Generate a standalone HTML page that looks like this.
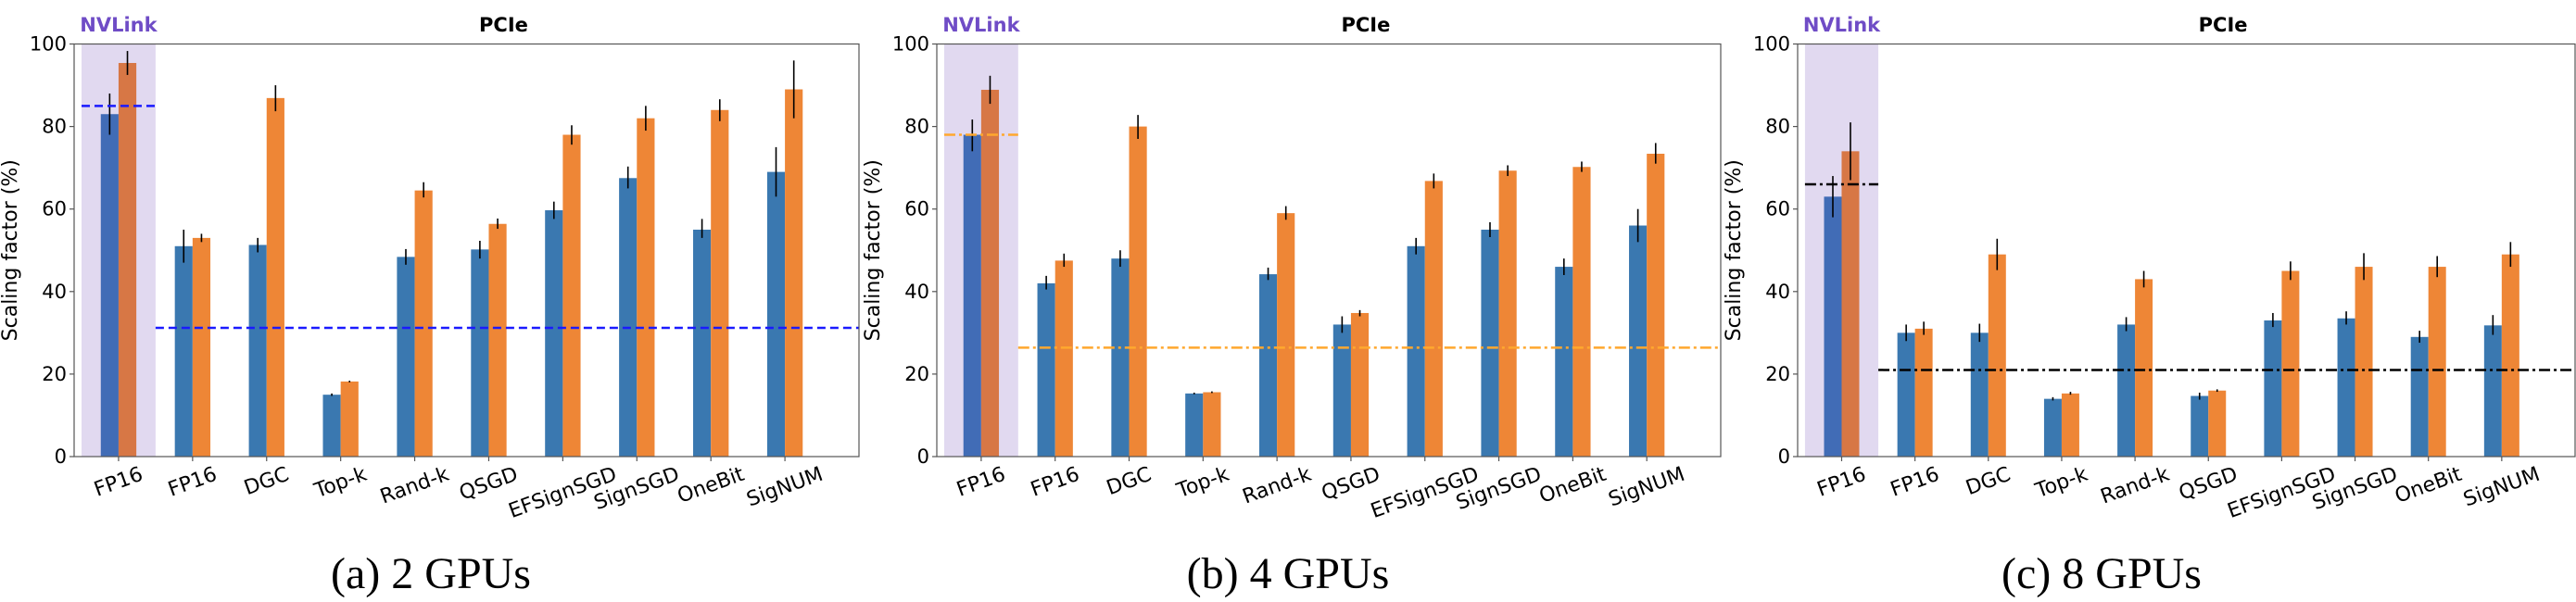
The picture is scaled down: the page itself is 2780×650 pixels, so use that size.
<!DOCTYPE html>
<html><head><meta charset="utf-8">
<style>
html,body{margin:0;padding:0;background:#fff;}
svg{display:block;}
text{font-family:"DejaVu Sans","Liberation Sans",sans-serif;}
.cap{font-family:"Liberation Serif",serif;font-size:48px;}
</style></head>
<body>
<svg id="fig" width="2780" height="650" viewBox="0 0 2780 650" xmlns="http://www.w3.org/2000/svg"></svg>
<script>
const categories = ["FP16","FP16","DGC","Top-k","Rand-k","QSGD","EFSignSGD","SignSGD","OneBit","SigNUM"];
const yTicks = [0,20,40,60,80,100];

// 2 GPUs
const blue2 = [83,51,51.3,15,48.4,50.2,59.7,67.5,55,69];
const blue2Lo = [78,47,49.5,14.7,46.5,48,57.6,65,53,63];
const blue2Hi = [88,55,53,15.3,50.3,52.3,61.8,70.3,57.6,75];
const orange2 = [95.4,53,86.9,18.2,64.5,56.4,78,82,84,89];
const orange2Lo = [92.5,52,83.7,18,62.8,55.2,75.6,79,81.3,82];
const orange2Hi = [98.3,54,90,18.4,66.5,57.7,80.3,85,86.6,96];
const ref2 = [85,31.2];

// 4 GPUs
const blue4 = [78,42,48,15.3,44.2,32,51,55,46,56];
const blue4Lo = [74,40.5,46,15.1,42.8,30,49,53.2,44,52];
const blue4Hi = [81.7,43.8,50,15.5,45.8,34,53,56.8,48,60];
const orange4 = [88.9,47.5,80,15.6,59,34.8,66.8,69.3,70.2,73.4];
const orange4Lo = [85.5,46,77,15.4,57.4,34,65,68,69,71];
const orange4Hi = [92.3,49.2,82.8,15.8,60.7,35.5,68.6,70.6,71.5,76];
const ref4 = [78,26.4];

// 8 GPUs
const blue8 = [63,30,30,14,32,14.7,33,33.5,29,31.8];
const blue8Lo = [58,28,27.8,13.6,30.4,13.8,31.4,32,27.6,29.5];
const blue8Hi = [68,32,32.2,14.4,33.8,15.5,34.8,35.2,30.5,34.3];
const orange8 = [74,31,49,15.3,43,16,45,46,46,49];
const orange8Lo = [67,29.5,45.2,15,41,15.7,42.8,42.8,43.5,46];
const orange8Hi = [81,32.7,52.8,15.7,45,16.3,47.3,49.3,48.6,52];
const ref8 = [66,21];

const NS="http://www.w3.org/2000/svg";
const svg=document.getElementById('fig');
function mk(tag,attrs,parent){const e=document.createElementNS(NS,tag);for(const k in attrs)e.setAttribute(k,attrs[k]);(parent||svg).appendChild(e);return e;}

const panels=[
 {L:80,R:927,blue:blue2,bLo:blue2Lo,bHi:blue2Hi,orange:orange2,oLo:orange2Lo,oHi:orange2Hi,ref:ref2,refColor:"#1a1aff",dash:"9,5",cap:"(a) 2 GPUs",capX:465,id:"2gpu"},
 {L:1011,R:1857,blue:blue4,bLo:blue4Lo,bHi:blue4Hi,orange:orange4,oLo:orange4Lo,oHi:orange4Hi,ref:ref4,refColor:"#ffa82e",dash:"12,4,3,4",cap:"(b) 4 GPUs",capX:1390,id:"4gpu"},
 {L:1940,R:2779,blue:blue8,bLo:blue8Lo,bHi:blue8Hi,orange:orange8,oLo:orange8Lo,oHi:orange8Hi,ref:ref8,refColor:"#000000",dash:"12,4,3,4",cap:"(c) 8 GPUs",capX:2268,id:"8gpu"}
];
const T=47.5,B=493;
panels.forEach(p=>{
  const g=mk('g',{});
  
  
  const xs=v=>p.L+(v+0.6)*(p.R-p.L)/10.6;
  const ys=v=>B-(v/100)*(B-T);
  const bw=(xs(1)-xs(0))*0.24;
  const sh=mk('rect',{x:xs(-0.5),y:T,width:xs(0.5)-xs(-0.5),height:B-T,fill:"#e1d9f0"},g);
  
  
  categories.forEach((c,i)=>{
    const cx=xs(i);
    const bb=mk('rect',{x:cx-bw,y:ys(p.blue[i]),width:bw,height:ys(0)-ys(p.blue[i]),fill:i===0?"#416cb6":"#3a78b0"},g);
    
    
    const ob=mk('rect',{x:cx,y:ys(p.orange[i]),width:bw,height:ys(0)-ys(p.orange[i]),fill:i===0?"#d77745":"#ee8636"},g);
    
    
    const e1=mk('line',{x1:cx-bw/2,x2:cx-bw/2,y1:ys(p.bLo[i]),y2:ys(p.bHi[i]),stroke:"#000","stroke-width":1.6},g);
    
    
    const e2=mk('line',{x1:cx+bw/2,x2:cx+bw/2,y1:ys(p.oLo[i]),y2:ys(p.oHi[i]),stroke:"#000","stroke-width":1.6},g);
    
    
  });
  const r1=mk('line',{x1:xs(-0.5),x2:xs(0.5),y1:ys(p.ref[0]),y2:ys(p.ref[0]),stroke:p.refColor,"stroke-width":2.5,"stroke-dasharray":p.dash},g);
  
  
  const r2=mk('line',{x1:xs(0.5),x2:p.R,y1:ys(p.ref[1]),y2:ys(p.ref[1]),stroke:p.refColor,"stroke-width":2.5,"stroke-dasharray":p.dash},g);
  
  
  const fr=mk('rect',{x:p.L,y:T,width:p.R-p.L,height:B-T,fill:"none",stroke:"#555","stroke-width":1.2},g);
  
  
  yTicks.forEach(v=>{
    mk('line',{x1:p.L-5,x2:p.L,y1:ys(v),y2:ys(v),stroke:"#555","stroke-width":1.2},g);
    const t=mk('text',{x:p.L-8,y:ys(v)+7,"text-anchor":"end","font-size":21,fill:"#000"},g);
    t.textContent=v;
    
    
  });
  categories.forEach((c,i)=>{
    const cx=xs(i);
    mk('line',{x1:cx,x2:cx,y1:B,y2:B+5,stroke:"#555","stroke-width":1.2},g);
    const t=mk('text',{x:0,y:0,"text-anchor":"middle","dominant-baseline":"central","font-size":22,fill:"#000"},g);
    t.textContent=c;
    
    
    const w=t.getComputedTextLength?t.getComputedTextLength():c.length*13;
    const a=20*Math.PI/180;
    const h=w*Math.sin(a)+16*Math.cos(a);
    t.setAttribute('transform','translate('+cx+','+(B+11+h/2)+') rotate(-20)');
  });
  const yl=mk('text',{x:0,y:0,"text-anchor":"middle","font-size":22,fill:"#000",transform:'translate('+(p.L-62)+','+((T+B)/2)+') rotate(-90)'},g);
  yl.textContent="Scaling factor (%)";
  
  
  const nv=mk('text',{x:xs(0),y:34,"text-anchor":"middle","font-size":21,"font-weight":"bold",fill:"#6f4cc6"},g);
  nv.textContent="NVLink";
  
  
  const pc=mk('text',{x:xs(5.2),y:34,"text-anchor":"middle","font-size":21,"font-weight":"bold",fill:"#000"},g);
  pc.textContent="PCIe";
  
  
  const cp=mk('text',{x:p.capX,y:635,"text-anchor":"middle","class":"cap",fill:"#000"},g);
  cp.textContent=p.cap;
  
  
});
</script>
</body></html>
